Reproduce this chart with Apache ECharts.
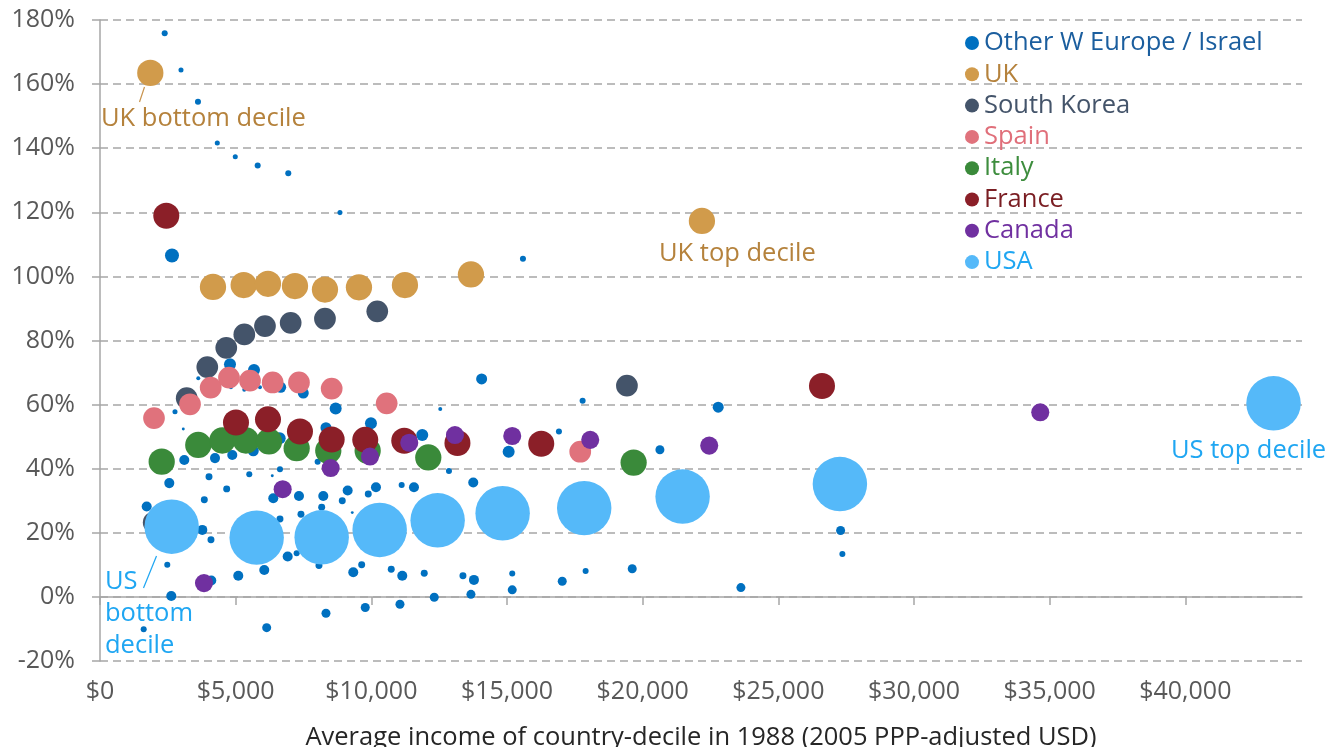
<!DOCTYPE html>
<html>
<head>
<meta charset="utf-8">
<script src="https://cdn.jsdelivr.net/npm/echarts@6/dist/echarts.min.js"></script>
<style>html,body{margin:0;padding:0;background:#fff;}#c{width:1332px;height:747px;}</style>
</head>
<body>
<div id="c"></div>
<script>
// ---- data (x: average income 1988, 2005 PPP USD; y: cumulative real income growth %; pop: millions per decile) ----
const seriesNames = ['Other W Europe / Israel','UK','South Korea','Spain','Italy','France','Canada','USA'];

const owX = [2384,2985,3611,4323,4986,5811,6939,8844,2653,15588,
  14066,4791,5675,3622,4827,5317,5896,6659,7492,8686,
  12540,17787,22784,2764,3070,9986,8328,11877,6622,5649,
  4875,4238,3106,8022,12861,13756,6633,6349,5502,4017,
  2554,15061,16914,20636,11571,11118,1721,3844,4669,6386,
  7333,8229,9128,8929,9887,10171,7407,8170,6633,9297,
  3770,4090,2480,4101,5096,6054,6917,7248,8070,9334,
  9644,10734,11140,11950,13377,13782,13671,12319,11055,9776,
  8328,6143,2627,1610,15193,15193,17036,17898,19615,23621,
  27295,27361];
const owY = [175.9,164.4,154.5,141.6,137.3,134.6,132.2,119.9,106.5,105.5,
  68.0,72.6,70.8,68.2,65.4,64.6,65.4,65.4,63.6,58.8,
  58.6,61.2,59.2,57.8,52.4,54.2,52.8,50.5,49.5,45.6,
  44.3,43.3,42.7,42.2,39.3,35.7,39.8,37.8,38.3,37.5,
  35.5,45.3,51.6,45.9,34.2,34.9,28.2,30.3,33.7,30.8,
  31.5,31.5,33.2,30.0,32.1,34.2,25.8,28.0,24.3,26.3,
  20.9,17.8,10.0,5.1,6.6,8.4,12.6,13.6,9.8,7.7,
  10.0,8.6,6.6,7.4,6.6,5.3,0.8,-0.1,-2.3,-3.3,
  -5.1,-9.6,0.3,-10.1,7.3,2.2,4.9,8.1,8.8,2.9,
  20.7,13.4];
const owPop = [.3,.21,.3,.21,.21,.3,.3,.21,1.62,.3,
  1.0,1.19,1.19,.13,.13,.13,.13,1.0,1.0,1.19,
  .13,.3,1.0,.21,.07,1.19,1.0,1.19,1.19,1.0,
  .83,.83,.83,.3,.3,.83,.3,.07,.3,.4,
  .83,1.19,.3,.67,.83,.3,.83,.4,.4,.83,
  .83,.83,.83,.4,.4,.83,.4,.4,.4,.07,
  .83,.4,.3,.83,.83,.83,.83,.3,.4,.83,
  .4,.4,.83,.4,.4,.83,.67,.67,.67,.67,
  .67,.67,.83,.3,.3,.67,.67,.3,.67,.67,
  .67,.3];

const ukX = [1854,4164,5295,6191,7186,8291,9544,11239,13671,22184];
const ukY = [163.5,96.7,97.3,97.7,97.0,95.9,96.6,97.3,100.6,117.3];
const ukPop = 5.7;

const krX = [1979,3195,3954,4654,5318,6080,7027,8291,10219,19420];
const krY = [23.2,62.0,71.7,77.7,81.9,84.5,85.5,86.8,89.1,65.9];
const krPop = 3.9;

const esX = [1990,3317,4079,4754,5528,6364,7333,8538,10565,17699];
const esY = [55.8,60.1,65.3,68.4,67.5,66.9,66.9,65.0,60.4,45.3];
const esPop = 3.9;

const itX = [2274,3622,4507,5380,6228,7248,8413,9865,12099,19667];
const itY = [42.2,47.4,48.8,48.8,48.5,46.4,45.6,45.6,43.5,41.9];
const itPop = 5.7;

const frX = [2443,5012,6191,7370,8538,9776,11214,13174,16262,26609];
const frY = [118.9,54.4,55.4,51.6,49.1,49.0,48.7,48.0,47.8,65.8];
const frPop = 5.6;

const caX = [3832,6732,8501,9950,11398,13082,15193,18068,22453,34654];
const caY = [4.3,33.6,40.2,43.8,48.1,50.5,50.2,49.0,47.2,57.6];
const caPop = 2.7;

const usX = [2642,5774,8170,10307,12444,14839,17846,21472,27269,43251];
const usY = [21.9,18.5,18.6,20.9,23.9,26.1,27.7,31.3,35.2,60.4];
const usPop = 24.5;

const xTicks = [0,5000,10000,15000,20000,25000,30000,35000,40000];

// ---- styling ----
const FONT = '"Open Sans"';
const FS = 25.5;
const fillColors = ['#0070C0','#D19B4B','#44546A','#E0727C','#3A8A3A','#8B1F28','#7030A0','#55B9F9'];
const textColors = ['#1B5E9E','#B5823C','#44546A','#E06F7A','#3D8D3D','#7A1E23','#7030A0','#1FA6F2'];

function pts(xs, ys, pop) {
  return xs.map((x, i) => [x, ys[i], Array.isArray(pop) ? pop[i] : pop]);
}
const allData = [pts(owX,owY,owPop), pts(ukX,ukY,ukPop), pts(krX,krY,krPop), pts(esX,esY,esPop),
                 pts(itX,itY,itPop), pts(frX,frY,frPop), pts(caX,caY,caPop), pts(usX,usY,usPop)];

const chart = echarts.init(document.getElementById('c'), null, {renderer: 'canvas'});
const tx = (text, x, y, fill, extra) => ({type: 'text', x: x, y: y,
  style: Object.assign({text: text, fill: fill, font: FS + 'px ' + FONT, verticalAlign: 'middle'}, extra || {})});

const option = {
  animation: false,
  textStyle: {fontFamily: FONT},
  grid: {left: 100, right: 30, top: 20, bottom: 86, containLabel: false},
  legend: {
    orient: 'vertical', left: 960, top: 25,
    itemWidth: 14, itemHeight: 14, itemGap: 5.3,
    icon: 'circle',
    textStyle: {fontSize: FS, fontFamily: FONT, lineHeight: 26},
    data: seriesNames.map((n, i) => ({name: n, textStyle: {color: textColors[i]}}))
  },
  xAxis: [
    {
      type: 'value', min: 0, max: 44300, interval: 5000, position: 'bottom',
      axisLine: {show: true, onZero: true, lineStyle: {color: '#A6A6A6', width: 1.5}},
      axisTick: {show: true, inside: false, length: 8, customValues: xTicks, lineStyle: {color: '#A6A6A6', width: 1.5}},
      axisLabel: {show: false},
      splitLine: {show: false}
    },
    {
      type: 'value', min: 0, max: 44300, interval: 5000, position: 'bottom',
      axisLine: {show: false, onZero: false},
      axisTick: {show: false},
      axisLabel: {
        show: true, margin: 18, fontSize: 25, color: '#595959', fontFamily: FONT,
        customValues: xTicks,
        formatter: v => (v % 5000 === 0 && v <= 40000) ? '$' + v.toLocaleString('en-US') : ''
      },
      splitLine: {show: false}
    }
  ],
  yAxis: {
    type: 'value', min: -20, max: 180, interval: 20,
    axisLine: {show: true, onZero: false, lineStyle: {color: '#A6A6A6', width: 1.5}},
    axisTick: {show: true, inside: false, length: 8, lineStyle: {color: '#A6A6A6', width: 1.5}},
    axisLabel: {margin: 25, fontSize: 25, color: '#595959', fontFamily: FONT, formatter: '{value}%'},
    splitLine: {show: true, lineStyle: {color: '#A6A6A6', width: 1.5, type: [8, 5]}}
  },
  series: seriesNames.map((n, i) => ({
    name: n, type: 'scatter', xAxisIndex: 0,
    data: allData[i],
    symbol: 'circle',
    symbolSize: v => 11 * Math.sqrt(v[2]),
    itemStyle: {color: fillColors[i], opacity: 1},
    emphasis: {disabled: true}
  })),
  graphic: [
    tx('Average income of country-decile in 1988 (2005 PPP-adjusted USD)', 701, 738, '#262626', {align: 'center'}),
    {type: 'line', shape: {x1: 144.5, y1: 87, x2: 139.5, y2: 102}, style: {stroke: '#C9944F', lineWidth: 1.2}},
    tx('UK bottom decile', 101, 119, '#B5823C'),
    tx('UK top decile', 659, 254, '#B5823C'),
    tx('US top decile', 1171, 451, '#1FA6F2'),
    {type: 'line', shape: {x1: 156.5, y1: 556, x2: 143.5, y2: 588}, style: {stroke: '#1FA6F2', lineWidth: 1.2}},
    tx('US', 105, 582, '#1FA6F2'),
    tx('bottom', 105, 614, '#1FA6F2'),
    tx('decile', 105, 646, '#1FA6F2')
  ]
};
chart.setOption(option);
</script>
</body>
</html>
